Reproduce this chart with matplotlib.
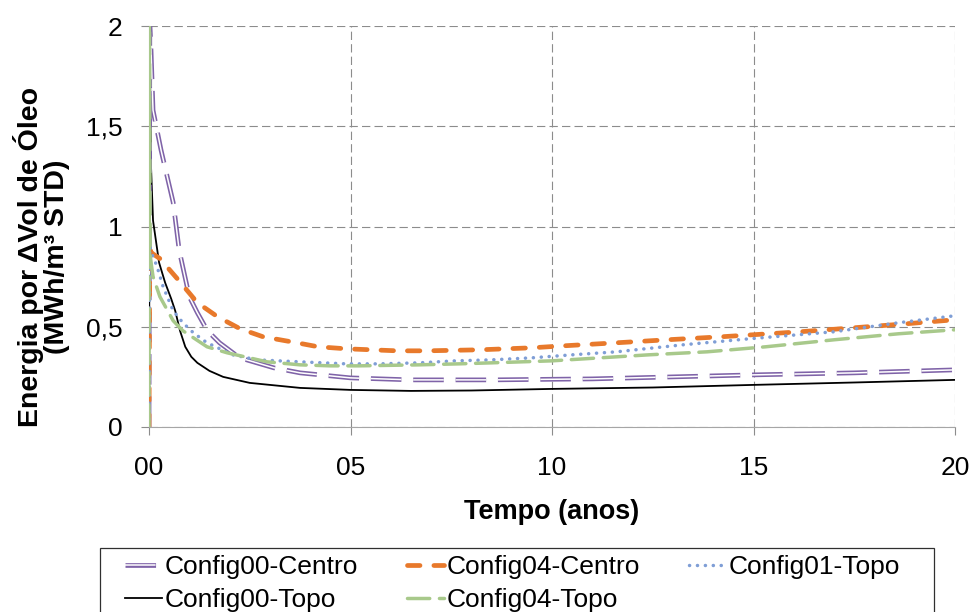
import matplotlib
matplotlib.use("Agg")
import matplotlib.pyplot as plt
from matplotlib.patches import Rectangle

plt.rcParams['font.family'] = ['Liberation Sans', 'DejaVu Sans']
plt.rcParams['lines.scale_dashes'] = False

# data (tempo in anos, energia in MWh/m3 STD)
t_c00_centro = [0, 0.02, 0.05, 0.1, 0.3, 0.6, 0.75, 1.0, 1.2, 1.45, 1.75, 2.25, 3.1, 3.75, 5, 6.5, 8.5, 11, 13, 15, 17.5, 20]
v_c00_centro = [0, 2.0, 1.88, 1.58, 1.38, 1.12, 0.88, 0.65, 0.57, 0.48, 0.42, 0.345, 0.295, 0.27, 0.245, 0.235, 0.235, 0.24, 0.25, 0.26, 0.27, 0.285]

t_c00_topo = [0, 0.02, 0.05, 0.1, 0.25, 0.4, 0.55, 0.65, 0.77, 0.9, 1.05, 1.2, 1.5, 1.84, 2.5, 3.75, 5, 6.5, 8, 10, 12.5, 15, 17.5, 20]
v_c00_topo = [0, 1.9, 1.3, 1.03, 0.82, 0.72, 0.64, 0.58, 0.48, 0.40, 0.35, 0.32, 0.28, 0.25, 0.22, 0.195, 0.185, 0.18, 0.182, 0.19, 0.197, 0.21, 0.222, 0.235]

t_c04_centro = [0, 0.02, 0.05, 0.27, 0.7, 1.2, 1.7, 2.26, 2.83, 3.67, 4.2, 4.9, 6.15, 6.9, 8.2, 9.5, 10.3, 11.6, 12.85, 14.2, 16.15, 17.5, 18.8, 20]
v_c04_centro = [0, 0.9, 0.87, 0.84, 0.74, 0.62, 0.55, 0.49, 0.45, 0.42, 0.40, 0.39, 0.38, 0.38, 0.385, 0.395, 0.405, 0.42, 0.435, 0.45, 0.475, 0.495, 0.515, 0.535]

t_c01_topo = [0, 0.02, 0.1, 0.2, 0.35, 0.6, 0.84, 1.1, 1.44, 2.08, 2.68, 3.75, 4.9, 5.7, 6.7, 7.6, 8.5, 9.5, 10.5, 11.6, 13.25, 14.9, 17, 18.6, 20]
v_c01_topo = [0, 0.9, 0.85, 0.80, 0.70, 0.58, 0.52, 0.47, 0.42, 0.36, 0.335, 0.325, 0.315, 0.315, 0.32, 0.33, 0.335, 0.345, 0.36, 0.375, 0.41, 0.44, 0.475, 0.52, 0.555]

t_c04_topo = [0, 0.01, 0.03, 0.1, 0.27, 0.6, 0.84, 1.44, 1.94, 2.93, 3.75, 4.5, 5.2, 6.7, 7.7, 8.5, 10, 10.8, 12.4, 13.85, 15.3, 17, 18.6, 20]
v_c04_topo = [0, 2.1, 0.85, 0.75, 0.65, 0.53, 0.48, 0.40, 0.37, 0.325, 0.31, 0.305, 0.305, 0.31, 0.315, 0.32, 0.33, 0.34, 0.36, 0.375, 0.40, 0.435, 0.465, 0.485]

x_ticks = [0, 5, 10, 15, 20]
x_labels = ['00', '05', '10', '15', '20']
y_ticks = [0, 0.5, 1, 1.5, 2]
y_labels = ['0', '0,5', '1', '1,5', '2']

purple = '#7F63A8'
orange = '#E8792B'
blue = '#7F9ED6'
green = '#A8C98B'
grid_gray = '#8C8C8C'

W, H = 973, 612
fig = plt.figure(figsize=(W / 100, H / 100), dpi=100)
ax = fig.add_axes([149 / W, 1 - 427 / H, (955 - 149) / W, (427 - 26) / H])

# black solid
l_black, = ax.plot(t_c00_topo, v_c00_topo, color='black', lw=1.3, zorder=3)

# purple double line: thick purple + thin white on top, same dashes
long_dash = (0, (22, 8.5))
l_p1, = ax.plot(t_c00_centro, v_c00_centro, color=purple, lw=3.4, linestyle=long_dash,
                dash_capstyle='butt', zorder=4)
l_p2, = ax.plot(t_c00_centro, v_c00_centro, color='white', lw=1.1, linestyle=long_dash,
                dash_capstyle='butt', zorder=4.1)

l_orange, = ax.plot(t_c04_centro, v_c04_centro, color=orange, lw=3.4,
                    linestyle=(0, (9, 10)), dash_capstyle='round', zorder=5)
l_blue, = ax.plot(t_c01_topo, v_c01_topo, color=blue, lw=2.5,
                  linestyle=(0, (0.1, 5.6)), dash_capstyle='round', zorder=6)
l_green, = ax.plot(t_c04_topo, v_c04_topo, color=green, lw=2.5,
                   linestyle=(0, (16, 7)), dash_capstyle='round', zorder=7)

ax.set_xlim(0, 20)
ax.set_ylim(0, 2)
ax.set_xticks(x_ticks)
ax.set_xticklabels(x_labels)
ax.set_yticks(y_ticks)
ax.set_yticklabels(y_labels)
ax.tick_params(axis='both', labelsize=19, colors=grid_gray, labelcolor='black', direction='out')
ax.tick_params(axis='x', length=6, pad=15)
ax.tick_params(axis='y', length=6, pad=13)

ax.grid(True, color=grid_gray, linestyle=(0, (6, 3)), linewidth=0.8)
ax.set_axisbelow(True)
ax.spines['top'].set_visible(False)
ax.spines['right'].set_visible(False)
ax.spines['left'].set_color('#A6A6A6')
ax.spines['bottom'].set_color('#A6A6A6')

ax.set_xlabel('Tempo (anos)', fontsize=19.5, fontweight='bold')
ax.xaxis.set_label_coords(0.5, 1 - (512 - 26) / 401, transform=ax.transAxes)
ax.xaxis.label.set_va('center')
ax.set_ylabel('Energia por \u0394Vol de \u00d3leo\n(MWh/m\u00b3 STD)', fontsize=20.5,
              fontweight='bold', linespacing=1.0)
ax.yaxis.set_label_coords(-(149 - 42) / 806, (427 - 257) / 401, transform=ax.transAxes)
ax.yaxis.label.set_va('center')

# legend box (runs past the bottom edge, as in the reference)
fig.patches.append(Rectangle((100 / W, -0.05), (934 - 100) / W, 0.05 + 1 - 548 / H,
                             transform=fig.transFigure, fill=False,
                             edgecolor='#303030', linewidth=0.9))

handles = [(l_p1, l_p2), l_black, l_orange, l_green, l_blue]
labels = ['Config00-Centro', 'Config00-Topo', 'Config04-Centro', 'Config04-Topo', 'Config01-Topo']
leg = fig.legend(handles, labels, ncol=3, loc='upper left',
                 bbox_to_anchor=(125 / W, 1 - 555 / H), fontsize=19,
                 frameon=False, handlelength=1.4, handletextpad=0.1, columnspacing=1.85,
                 labelspacing=0.36, borderpad=0, borderaxespad=0)

fig.savefig('out.png', dpi=100)
